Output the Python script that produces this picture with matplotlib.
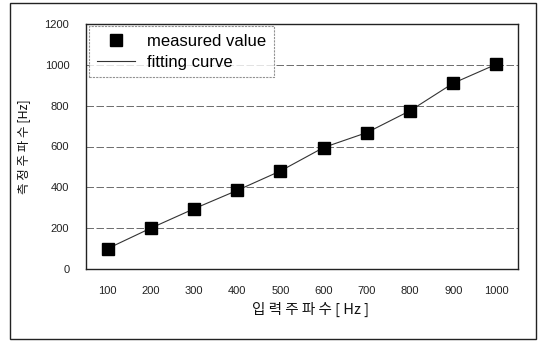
import matplotlib
matplotlib.use("Agg")
import matplotlib.pyplot as plt
from matplotlib.patches import Rectangle

categories = ["100", "200", "300", "400", "500", "600", "700", "800", "900", "1000"]
measured = [100, 200, 295, 385, 480, 595, 668, 775, 910, 1003]
fitting = [100, 200, 295, 385, 480, 595, 668, 775, 910, 1003]
yticks = [0, 200, 400, 600, 800, 1000, 1200]

W, H = 541, 343
fig = plt.figure(figsize=(W / 100, H / 100), dpi=100)
fig.patch.set_facecolor("white")

# outer frame
fig.patches.append(Rectangle((10 / W, 1 - 339 / H), 526 / W, 336 / H, transform=fig.transFigure,
                             fill=False, edgecolor="#222222", linewidth=1.0))

ax = fig.add_axes([86 / W, 1 - 269 / H, (518 - 86) / W, (269 - 24) / H])
x = list(range(len(categories)))
ax.set_xlim(-0.5, len(categories) - 0.5)
ax.set_ylim(0, 1200)
ax.set_yticks(yticks)
ax.set_xticks(x)
ax.set_xticklabels(categories)
ax.tick_params(length=0, labelsize=8, colors="#222222")
ax.tick_params(axis="x", pad=12)
ax.tick_params(axis="y", pad=12)
for lbl in ax.get_xticklabels() + ax.get_yticklabels():
    lbl.set_fontfamily("Liberation Sans")
for y in yticks[1:]:
    ax.axhline(y, color="#555555", linewidth=0.6, linestyle=(0, (9, 3)), zorder=1)
for s in ax.spines.values():
    s.set_color("#222222")
    s.set_linewidth(1.0)

ax.plot(x, fitting, color="#333333", linewidth=0.8, zorder=2, label="fitting curve")
ax.plot(x, measured, linestyle="none", marker="s", markersize=9, color="black", zorder=3,
        label="measured value")

handles, labels = ax.get_legend_handles_labels()
leg = ax.legend(handles[::-1], labels[::-1], loc="upper left", bbox_to_anchor=(0.008, 0.99),
                prop={"family": "Liberation Sans", "size": 12}, frameon=True, fancybox=False,
                borderpad=0.45, labelspacing=0.35, handlelength=2.3, handletextpad=0.7,
                borderaxespad=0)
leg.get_frame().set_edgecolor("#777777")
leg.get_frame().set_linestyle((0, (2, 1)))
leg.get_frame().set_linewidth(0.8)

ax.set_xlabel("입 력 주 파 수 [ Hz ]", family=["Noto Sans CJK KR", "DejaVu Sans"], fontsize=10.5,
              color="#111111")
ax.xaxis.set_label_coords((310 - 86) / (518 - 86), -(302 - 269) / (269 - 24))
ax.set_ylabel("측 정 주 파 수 [Hz]", family=["Noto Sans CJK KR", "DejaVu Sans"], fontsize=9,
              color="#111111")
ax.yaxis.set_label_coords(-(86 - 30) / (518 - 86), 0.5)

fig.savefig("out.png", dpi=100)
